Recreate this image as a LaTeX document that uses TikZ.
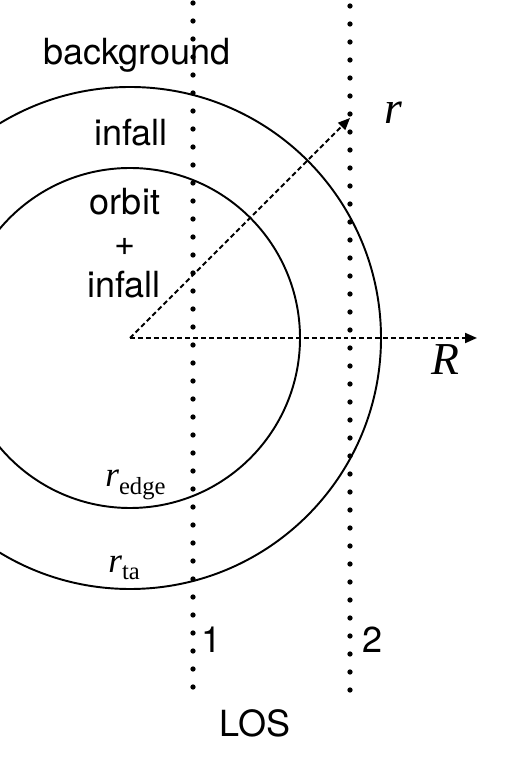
\documentclass[tikz,border=0pt]{standalone}
\usepackage{fontspec}
\setmainfont{TeX Gyre Heros}
\newfontfamily\tms{Liberation Serif}
\usetikzlibrary{arrows.meta}
\begin{document}
\begin{tikzpicture}
        \tikzset{
            ring/.style={draw, line width=1.1pt},
            los/.style={line width=3pt, line cap=round, dash pattern=on 0pt off 0.36cm},
            axis/.style={-{Triangle[length=0.24cm, width=0.2cm]}, line width=1.1pt, dash pattern=on 2.8pt off 1.7pt},
            lbl/.style={font=\fontsize{20.5}{24}\selectfont, inner sep=0pt},
            sym/.style={font=\tms\itshape\fontsize{26}{30}\selectfont, inner sep=0pt},
            rad/.style={font=\tms\itshape\fontsize{20}{24}\selectfont, inner sep=0pt, anchor=base west}
        }
        \path[use as bounding box, clip] (-2.6,-8.52) rectangle (7.6,6.76);

        % Circles
        \coordinate (O) at (0,0);
        \draw[ring] (O) circle (3.4);
        \draw[ring] (O) circle (5.02);

        % Lines of sight
        \coordinate (l1top) at (1.26,6.7);
        \coordinate (l1bot) at (1.26,-6.99);
        \coordinate (l2top) at (4.4,6.64);
        \coordinate (l2bot) at (4.4,-7.05);
        \draw[los] (l1top) -- (l1bot);
        \draw[los] (l2top) -- (l2bot);

        % Axes
        \coordinate (rtip) at (4.4,4.4);
        \coordinate (Rtip) at (6.94,0);
        \draw[axis] (O) -- (rtip);
        \draw[axis] (O) -- (Rtip);

        % Labels
        \node[lbl] (bg) at (0.14,5.66) {background};
        \node[lbl] (inf) at (0.02,4.1) {infall};
        \node[lbl] (orb) at (-0.1,2.72) {orbit};
        \node[lbl] (plus) at (-0.1,1.82) {+};
        \node[lbl] (inf2) at (-0.12,1.06) {infall};
        \node[sym] (rlab) at (5.26,4.5) {r};
        \node[sym] (Rlab) at (6.3,-0.44) {R};
        \node[rad] (redge) at (-0.5,-2.98) {r\raisebox{-4.5pt}{\upshape\fontsize{14}{16}\selectfont edge}};
        \node[rad] (rta) at (-0.44,-4.68) {r\raisebox{-4.5pt}{\upshape\fontsize{14}{16}\selectfont ta}};
        \node[lbl] (one) at (1.64,-6.04) {1};
        \node[lbl] (two) at (4.86,-6.04) {2};
        \node[lbl] (los) at (2.5,-7.7) {LOS};
    \end{tikzpicture}
\end{document}
